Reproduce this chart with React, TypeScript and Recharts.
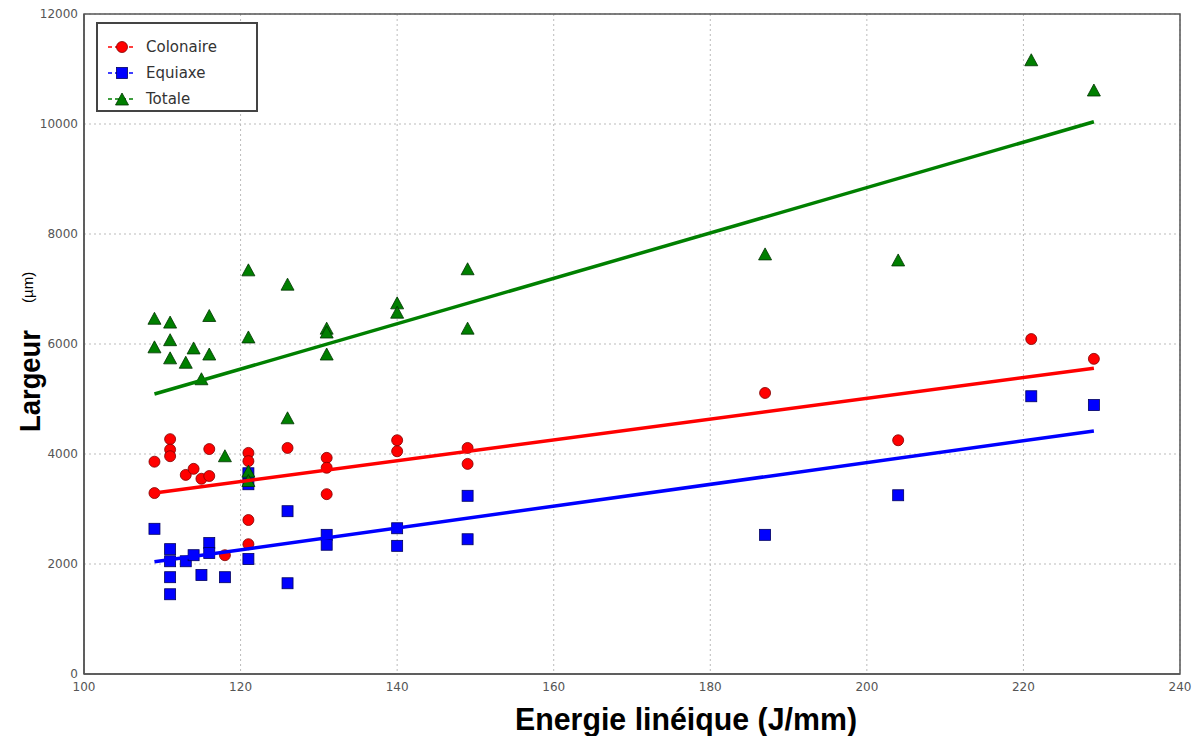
import { CartesianGrid, ReferenceArea, Scatter, ScatterChart, XAxis, YAxis } from "recharts";

// Energie linéique (J/mm) vs largeur (µm)
const colonaire: [number, number][] = [
  [109, 3860], [109, 3290], [111, 4270], [111, 4080], [111, 3960], [113, 3620], [114, 3730],
  [115, 3550], [116, 4090], [116, 3600], [118, 2160], [121, 4020], [121, 3870], [121, 2800],
  [121, 2360], [126, 4110], [131, 3930], [131, 3750], [131, 3270], [140, 4250], [140, 4050],
  [149, 4110], [149, 3820], [187, 5110], [204, 4250], [221, 6090], [229, 5730],
];

const equiaxe: [number, number][] = [
  [109, 2640], [111, 2270], [111, 2050], [111, 1760], [111, 1450], [113, 2050], [114, 2160],
  [115, 1800], [116, 2380], [116, 2200], [118, 1760], [121, 3650], [121, 3450], [121, 2090],
  [126, 2960], [126, 1650], [131, 2530], [131, 2350], [140, 2650], [140, 2330], [149, 3240],
  [149, 2450], [187, 2530], [204, 3250], [221, 5050], [229, 4890],
];

const totale: [number, number][] = [
  [109, 6450], [109, 5930], [111, 6380], [111, 6060], [111, 5730], [113, 5650], [114, 5910],
  [115, 5350], [116, 6500], [116, 5800], [118, 3950], [121, 7330], [121, 6110], [121, 3670],
  [121, 3500], [126, 7070], [126, 4640], [131, 6270], [131, 6200], [131, 5800], [140, 6730],
  [140, 6560], [149, 7350], [149, 6270], [187, 7620], [204, 7510], [221, 11150], [229, 10600],
];

// droites de tendance (extrémités)
const trendColonaire: [number, number][] = [[109, 3290], [229, 5560]];
const trendEquiaxe: [number, number][] = [[109, 2040], [229, 4420]];
const trendTotale: [number, number][] = [[109, 5090], [229, 10040]];

const xTicks = [100, 120, 140, 160, 180, 200, 220, 240];
const yTicks = [0, 2000, 4000, 6000, 8000, 10000, 12000];

const toPoints = (rows: [number, number][]) => rows.map(([x, y]) => ({ x, y }));

const RED = "#ff0000";
const BLUE = "#0000ff";
const GREEN = "#007f00";

const Circle = (p: any) => <circle cx={p.cx} cy={p.cy} r={5.5} fill={RED} stroke="#800000" strokeWidth={0.8} />;
const Square = (p: any) => <rect x={p.cx - 5.5} y={p.cy - 5.5} width={11} height={11} fill={BLUE} stroke="#000060" strokeWidth={0.8} />;
const Triangle = (p: any) => (
  <polygon
    points={`${p.cx},${p.cy - 7} ${p.cx - 6.5},${p.cy + 5} ${p.cx + 6.5},${p.cy + 5}`}
    fill={GREEN}
    stroke="#003300"
    strokeWidth={0.8}
  />
);
const NoDot = () => <g />;

const legendItems = [
  { name: "Colonaire", color: RED, marker: "circle" },
  { name: "Equiaxe", color: BLUE, marker: "square" },
  { name: "Totale", color: GREEN, marker: "triangle" },
];

function LegendBox() {
  return (
    <div
      style={{
        position: "absolute",
        top: 22,
        left: 96,
        width: 162,
        height: 90,
        border: "2px solid #444",
        background: "#fff",
        boxSizing: "border-box",
        paddingTop: 10,
      }}
    >
      {legendItems.map((item) => (
        <div key={item.name} style={{ display: "flex", alignItems: "center", height: 26 }}>
          <svg width={46} height={20}>
            <line x1={10} y1={10} x2={38} y2={10} stroke={item.color} strokeWidth={1.5} strokeDasharray="4 3" />
            {item.marker === "circle" && <Circle cx={24} cy={10} />}
            {item.marker === "square" && <Square cx={24} cy={10} />}
            {item.marker === "triangle" && <Triangle cx={24} cy={11} />}
          </svg>
          <span style={{ fontFamily: "'DejaVu Sans', sans-serif", fontSize: 15, color: "#333", marginLeft: 2 }}>{item.name}</span>
        </div>
      ))}
    </div>
  );
}

export default function App() {
  const tickStyle = { fontFamily: "'DejaVu Sans', sans-serif", fontSize: 12, fill: "#555" };
  return (
    <div style={{ position: "relative", width: 1196, height: 736, background: "#fff" }}>
      <style>{"body{margin:0}"}</style>
      <ScatterChart width={1196} height={736} margin={{ top: 14, right: 16, bottom: 0, left: 0 }}>
        <CartesianGrid stroke="#bbb" strokeDasharray="2 3" />
        <XAxis
          type="number"
          dataKey="x"
          domain={[100, 240]}
          ticks={xTicks}
          allowDataOverflow
          height={62}
          tick={tickStyle}
          tickLine={false}
          tickSize={0}
          tickMargin={8}
          axisLine={{ stroke: "#555", strokeWidth: 1.5 }}
          label={() => (
            <text
              x={515}
              y={730}
              textLength={342}
              lengthAdjust="spacingAndGlyphs"
              fontFamily="'Liberation Sans', Arial, sans-serif"
              fontWeight={700}
              fontSize={32}
              fill="#000"
            >
              Energie linéique (J/mm)
            </text>
          )}
        />
        <YAxis
          type="number"
          dataKey="y"
          domain={[0, 12000]}
          ticks={yTicks}
          allowDataOverflow
          width={84}
          tick={tickStyle}
          tickLine={false}
          tickSize={4}
          tickMargin={2}
          axisLine={{ stroke: "#555", strokeWidth: 1.5 }}
          label={() => (
            <g fontFamily="'Liberation Sans', Arial, sans-serif" fill="#000">
              <text x={40} y={432} transform="rotate(-90, 40, 432)" fontWeight={700} fontSize={29} textLength={102} lengthAdjust="spacingAndGlyphs">
                Largeur
              </text>
              <text x={33} y={303} transform="rotate(-90, 33, 303)" fontSize={15}>
                (µm)
              </text>
            </g>
          )}
        />
        <ReferenceArea x1={100} x2={240} y1={0} y2={12000} fill="none" stroke="#555" strokeWidth={1.5} />
        <Scatter name="Colonaire" data={toPoints(colonaire)} shape={Circle} isAnimationActive={false} />
        <Scatter name="Equiaxe" data={toPoints(equiaxe)} shape={Square} isAnimationActive={false} />
        <Scatter name="Totale" data={toPoints(totale)} shape={Triangle} isAnimationActive={false} />
        <Scatter data={toPoints(trendTotale)} line={{ stroke: "#008000", strokeWidth: 3.5 }} shape={NoDot} legendType="none" isAnimationActive={false} />
        <Scatter data={toPoints(trendColonaire)} line={{ stroke: RED, strokeWidth: 3.5 }} shape={NoDot} legendType="none" isAnimationActive={false} />
        <Scatter data={toPoints(trendEquiaxe)} line={{ stroke: BLUE, strokeWidth: 3.5 }} shape={NoDot} legendType="none" isAnimationActive={false} />
      </ScatterChart>
      <LegendBox />
    </div>
  );
}
